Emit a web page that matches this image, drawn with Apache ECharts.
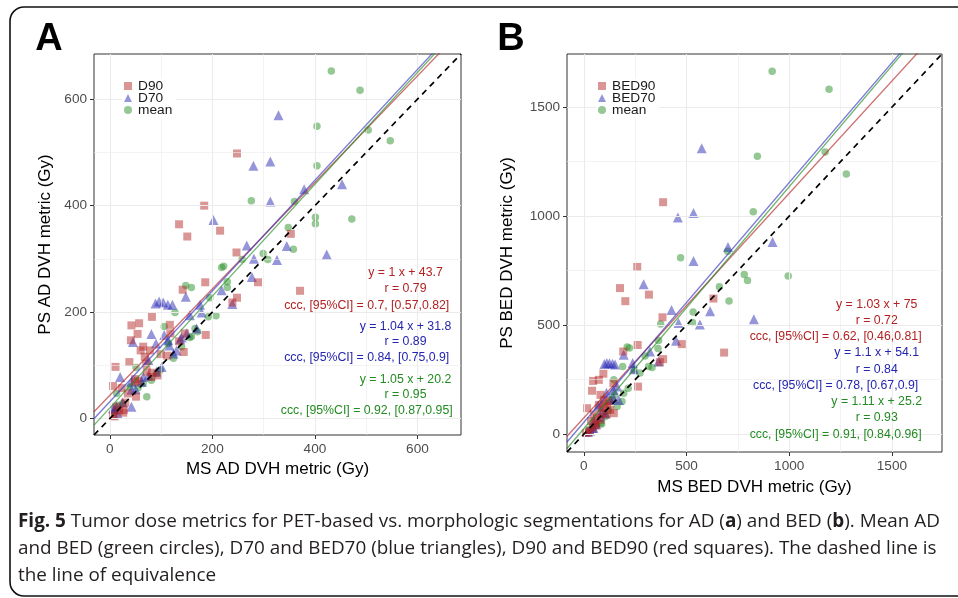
<!DOCTYPE html>
<html>
<head>
<meta charset="utf-8">
<script src="https://cdn.jsdelivr.net/npm/echarts@6/dist/echarts.min.js"></script>
<style>
  html, body { margin: 0; padding: 0; background: #fff; }
  #chart { width: 958px; height: 598px; }
</style>
</head>
<body>
<div id="chart"></div>
<script>
// panel A: AD DVH metrics, [MS, PS] in Gy
var adD90 = [[6,6],[9,4],[13,22],[18,15],[26,11],[27,16],[30,30],[6,61],[23,57],[35,47],[51,41],[49,69],[55,71],[49,74],[81,78],[83,86],[94,81],[11,97],[38,106],[68,116],[71,103],[99,121],[60,128],[65,135],[78,128],[41,147],[54,159],[42,175],[57,179],[117,176],[118,160],[146,160],[135,145],[144,125],[82,191],[187,157],[142,242],[186,256],[239,218],[248,227],[289,256],[371,240],[247,312],[353,347],[215,353],[151,342],[135,365],[184,400],[248,498],[72,88],[112,118]];
var adD70 = [[6,19],[9,18],[13,22],[15,10],[25,30],[20,78],[42,22],[42,69],[62,69],[65,78],[75,81],[91,88],[75,110],[101,97],[81,159],[45,144],[90,141],[106,157],[114,147],[116,137],[124,122],[130,128],[137,149],[140,152],[169,169],[156,194],[179,199],[89,216],[96,220],[104,218],[113,214],[122,214],[148,229],[176,214],[218,241],[239,215],[277,266],[267,325],[281,300],[326,298],[345,324],[423,308],[313,408],[202,373],[280,475],[313,483],[379,431],[453,440],[329,570],[50,55],[150,160],[42,54]];
var adMean = [[10,12],[16,25],[25,28],[13,47],[39,59],[55,58],[51,96],[65,66],[72,41],[81,72],[91,85],[98,91],[106,173],[114,141],[124,113],[127,199],[156,152],[159,154],[166,169],[171,163],[148,250],[159,246],[192,191],[195,227],[207,193],[218,284],[222,286],[229,257],[229,246],[258,299],[299,310],[308,299],[348,359],[358,318],[360,408],[276,409],[401,378],[401,366],[472,375],[404,475],[404,549],[504,542],[547,522],[432,653],[488,617],[140,135]];

// panel B: BED DVH metrics, [MS, PS] in Gy
var bedD90 = [[386,1064],[260,767],[176,670],[202,610],[317,640],[631,622],[383,536],[477,413],[683,374],[262,409],[192,379],[386,344],[370,330],[95,277],[73,249],[45,244],[40,199],[81,180],[97,157],[73,134],[113,127],[129,111],[146,96],[89,96],[81,66],[16,119],[264,218],[144,234],[30,15],[45,30],[55,50],[65,75],[35,60],[20,8],[10,5],[60,40],[100,140],[120,150],[110,90],[90,120],[50,90]];
var bedD70 = [[574,1312],[458,994],[534,1014],[702,858],[919,881],[534,794],[291,688],[427,569],[615,564],[461,510],[565,503],[828,527],[449,428],[364,333],[100,322],[112,326],[125,325],[140,323],[152,320],[194,364],[238,326],[322,379],[243,298],[144,203],[162,218],[146,165],[129,157],[170,157],[105,96],[81,81],[49,66],[40,28],[60,45],[90,110],[30,15],[20,10],[70,130],[110,190],[47,28]];
var bedMean = [[917,1665],[1194,1582],[1175,1294],[1278,1193],[845,1275],[825,1020],[471,809],[700,839],[781,732],[797,705],[995,725],[660,676],[707,611],[532,560],[529,512],[374,505],[364,429],[361,393],[211,400],[222,395],[332,306],[315,310],[298,359],[189,310],[244,295],[273,280],[146,249],[216,211],[194,188],[186,150],[162,127],[136,157],[105,81],[81,50],[87,47],[24,20],[60,40],[120,110],[40,30],[150,180]];

// fitted lines [slope, intercept], order: 90, 70, mean
var fitsA = [[1, 43.7], [1.04, 31.8], [1.05, 20.2]];
var fitsB = [[1.03, 75], [1.1, 54.1], [1.11, 25.2]];

var statsA = [
  ['y = 1 x + 43.7', 'r = 0.79', 'ccc, [95%CI] = 0.7, [0.57,0.82]'],
  ['y = 1.04 x + 31.8', 'r = 0.89', 'ccc, [95%CI] = 0.84, [0.75,0.9]'],
  ['y = 1.05 x + 20.2', 'r = 0.95', 'ccc, [95%CI] = 0.92, [0.87,0.95]']
];
var statsB = [
  ['y = 1.03 x + 75', 'r = 0.72', 'ccc, [95%CI] = 0.62, [0.46,0.81]'],
  ['y = 1.1 x + 54.1', 'r = 0.84', 'ccc, [95%CI] = 0.78, [0.67,0.9]'],
  ['y = 1.11 x + 25.2', 'r = 0.93', 'ccc, [95%CI] = 0.91, [0.84,0.96]']
];

var ticksA = [0, 200, 400, 600];
var minorA = [100, 300, 500];
var ticksB = [0, 500, 1000, 1500];
var minorB = [250, 750, 1250];
var limA = [-31, 685];
var limB = [-82, 1744];

var namesA = ['D90', 'D70', 'mean'];
var namesB = ['BED90', 'BED70', 'mean'];

var FONT = '"Liberation Sans", Arial, Helvetica, sans-serif';
var ptCol = ['rgba(178,34,34,0.6)', 'rgba(34,34,178,0.6)', 'rgba(34,139,34,0.6)'];
var lnCol = ['rgba(178,34,34,0.65)', 'rgba(50,50,190,0.65)', 'rgba(34,139,34,0.65)'];
var txtCol = ['#b22222', '#2424b0', '#228b22'];
var symbols = ['rect', 'triangle', 'circle'];
var symSize = [8, 10, 7.5];

function makeAxis(gi, lim, ticks, name, gap) {
  return {
    type: 'value', gridIndex: gi, min: lim[0], max: lim[1],
    name: name, nameLocation: 'middle', nameGap: gap,
    nameTextStyle: { fontFamily: FONT, fontSize: 17, color: '#000' },
    axisLine: { show: false, onZero: false },
    axisTick: { show: true, customValues: ticks, length: 4, lineStyle: { color: '#333', width: 1 } },
    axisLabel: {
      customValues: ticks, margin: 7, fontFamily: FONT, fontSize: 13.6, color: '#4d4d4d',
      formatter: function (v) { return String(v); }
    },
    splitLine: { show: false }
  };
}

function gridLines(gi, major, minor) {
  var data = [];
  major.forEach(function (v) {
    data.push({ xAxis: v, lineStyle: { width: 1.1 } });
    data.push({ yAxis: v, lineStyle: { width: 1.1 } });
  });
  minor.forEach(function (v) {
    data.push({ xAxis: v, lineStyle: { width: 0.6 } });
    data.push({ yAxis: v, lineStyle: { width: 0.6 } });
  });
  return {
    type: 'line', xAxisIndex: gi, yAxisIndex: gi, data: [], silent: true, z: 1,
    markLine: {
      silent: true, symbol: ['none', 'none'], label: { show: false }, animation: false,
      lineStyle: { color: '#ebebeb', type: 'solid' }, data: data
    }
  };
}

function panelSeries(gi, sets, names, fits, lim) {
  var out = [gridLines(gi, gi === 0 ? ticksA : ticksB, gi === 0 ? minorA : minorB)];
  // mean first, then 70, then 90 on top
  [2, 1, 0].forEach(function (k) {
    out.push({
      name: names[k], type: 'scatter', xAxisIndex: gi, yAxisIndex: gi,
      data: sets[k], symbol: symbols[k], symbolSize: symSize[k],
      itemStyle: { color: ptCol[k] }, z: 3
    });
  });
  fits.forEach(function (f, k) {
    out.push({
      type: 'line', xAxisIndex: gi, yAxisIndex: gi, silent: true, clip: true,
      symbol: 'none', z: 5,
      data: [[lim[0], f[0] * lim[0] + f[1]], [lim[1], f[0] * lim[1] + f[1]]],
      lineStyle: { color: lnCol[k], width: 1.3 }
    });
  });
  out.push({
    type: 'line', xAxisIndex: gi, yAxisIndex: gi, silent: true, clip: true,
    symbol: 'none', z: 6,
    data: [[lim[0], lim[0]], [lim[1], lim[1]]],
    lineStyle: { color: '#000', width: 1.7, type: [6, 5] }
  });
  return out;
}

function statTexts(stats, cx, cxCcc, rows) {
  var els = [];
  stats.forEach(function (s, k) {
    s.forEach(function (t, j) {
      els.push({
        type: 'text', x: j === 2 ? cxCcc : cx, y: rows[k * 3 + j], z: 10,
        style: { text: t, fill: txtCol[k], font: '12.3px ' + FONT, align: 'center', verticalAlign: 'middle' }
      });
    });
  });
  return els;
}

function legendFor(left, names) {
  return {
    left: left, top: 78, orient: 'vertical', itemGap: -2, padding: [1, 4, 1, 2],
    backgroundColor: '#fff', z: 8,
    itemWidth: 8, itemHeight: 8, selectedMode: false,
    data: names.map(function (n, k) { return { name: n, icon: symbols[k] }; }),
    textStyle: { fontFamily: FONT, fontSize: 13.7, color: '#1a1a1a', lineHeight: 11.2, padding: [0, 0, 0, 1] }
  };
}

var chart = echarts.init(document.getElementById('chart'), null, { renderer: 'canvas' });

var series = panelSeries(0, [adD90, adD70, adMean], namesA, fitsA, limA)
  .concat(panelSeries(1, [bedD90, bedD70, bedMean], namesB, fitsB, limB));

var capFamily = '"Open Sans", "Noto Sans", sans-serif';
var captionFont = '18.9px ' + capFamily;
var captionRich = { b: { fontWeight: 'bold', fontFamily: capFamily, fontSize: 18.9, fill: '#231f20' } };

var graphics = [
  { type: 'rect', z: 0, shape: { x: 10, y: 7, width: 990, height: 589, r: 14 },
    style: { fill: 'none', stroke: '#111', lineWidth: 1.6 } },
  { type: 'text', x: 49, y: 40, style: { text: 'A', font: 'bold 38px ' + FONT, fill: '#000', align: 'center', verticalAlign: 'middle' } },
  { type: 'text', x: 511, y: 40, style: { text: 'B', font: 'bold 38px ' + FONT, fill: '#000', align: 'center', verticalAlign: 'middle' } },
  { type: 'text', x: 18, y: 522, style: { text: '{b|Fig. 5} Tumor dose metrics for PET-based vs. morphologic segmentations for AD ({b|a}) and BED ({b|b}). Mean AD', font: captionFont, fill: '#231f20', rich: captionRich, verticalAlign: 'middle' } },
  { type: 'text', x: 18, y: 549, style: { text: 'and BED (green circles), D70 and BED70 (blue triangles), D90 and BED90 (red squares). The dashed line is', font: captionFont, fill: '#231f20', verticalAlign: 'middle' } },
  { type: 'text', x: 18, y: 576, style: { text: 'the line of equivalence', font: captionFont, fill: '#231f20', verticalAlign: 'middle' } }
].concat(statTexts(statsA, 405.5, 366.7, [272.7, 289, 305.3, 326.3, 342, 358, 379.3, 395, 411]))
 .concat(statTexts(statsB, 876.7, 835.6, [304.3, 320.3, 336.7, 353, 369.3, 385.3, 401.7, 418, 434.7]));

chart.setOption({
  animation: false,
  backgroundColor: '#fff',
  grid: [
    { left: 94, top: 54, width: 367, height: 381, show: true, backgroundColor: '#fff', borderColor: '#333', borderWidth: 1 },
    { left: 567, top: 54, width: 375, height: 398, show: true, backgroundColor: '#fff', borderColor: '#333', borderWidth: 1 }
  ],
  xAxis: [
    makeAxis(0, limA, ticksA, 'MS AD DVH metric (Gy)', 25),
    makeAxis(1, limB, ticksB, 'MS BED DVH metric (Gy)', 27)
  ],
  yAxis: [
    makeAxis(0, limA, ticksA, 'PS AD DVH metric (Gy)', 40),
    makeAxis(1, limB, ticksB, 'PS BED DVH metric (Gy)', 51)
  ],
  legend: [legendFor(122, namesA), legendFor(596, namesB)],
  series: series,
  graphic: graphics
});
</script>
</body>
</html>
